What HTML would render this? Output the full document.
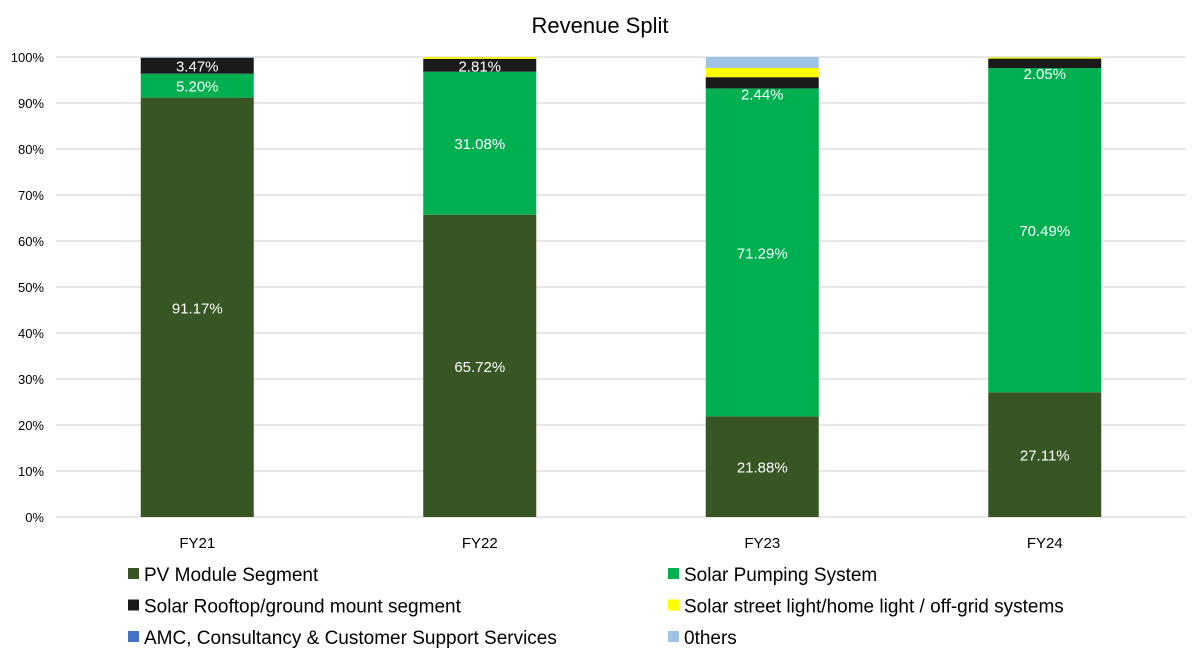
<!DOCTYPE html>
<html><head><meta charset="utf-8"><style>
body{margin:0;background:#fff;font-family:"Liberation Sans",sans-serif}
</style></head><body>
<svg id="c" width="1200" height="661" xmlns="http://www.w3.org/2000/svg"></svg>
<script>
const categories=["FY21","FY22","FY23","FY24"];
const pvModule=[91.17,65.72,21.88,27.11];
const solarPumping=[5.20,31.08,71.29,70.49];
const rooftop=[3.47,2.81,2.44,2.05];
const streetLight=[0.0,0.39,2.0,0.30];
const amc=[0,0,0,0];
const others=[0.16,0,2.39,0.05];
const yTicks=[0,10,20,30,40,50,60,70,80,90,100];
const seriesNames=["PV Module Segment","Solar Pumping System","Solar Rooftop/ground mount segment","Solar street light/home light / off-grid systems","AMC, Consultancy & Customer Support Services","0thers"];
const seriesData=[pvModule,solarPumping,rooftop,streetLight,amc,others];
const colors=["#375623","#00b050","#1a1a1a","#ffff00","#4472c4","#9dc3e6"];
const labelShown=[true,true,true,false,false,false];

const NS="http://www.w3.org/2000/svg";
const svg=document.getElementById('c');
const x0=56,x1=1186,y0=517,y1=57;
const y=v=>y0-(v/100)*(y0-y1);
const bw=(x1-x0)/categories.length;
const xc=i=>x0+bw*(i+0.5);
const barW=113;
function mk(t,a,p){const e=document.createElementNS(NS,t);for(const k in a)e.setAttribute(k,a[k]);(p||svg).appendChild(e);return e;}

const title=mk('text',{x:600,y:33,'text-anchor':'middle','font-size':22,fill:'#000'});
title.textContent="Revenue Split";



yTicks.forEach(t=>{
  const l=mk('line',{x1:x0,x2:x1,y1:y(t),y2:y(t),stroke:'#d9d9d9','stroke-width':1.3});
  
  
  const tx=mk('text',{x:44,y:y(t)+5,'text-anchor':'end','font-size':13,fill:'#000'});
  tx.textContent=t+"%";
  
  
});

categories.forEach((c,i)=>{
  let acc=0;
  seriesData.forEach((s,k)=>{
    const v=s[i];
    if(v>0){
      const r=mk('rect',{x:xc(i)-barW/2,y:y(acc+v),width:barW,height:y(acc)-y(acc+v),fill:colors[k]});
      
      
      if(labelShown[k]){
        let cy=(y(acc)+y(acc+v))/2;
        if(k===2 && v<2.6) cy=y(acc)+5;
        const tx=mk('text',{x:xc(i),y:cy+6,'text-anchor':'middle','font-size':15,fill:'#fff'});
        tx.textContent=v.toFixed(2)+"%";
        
        
      }
    }
    acc+=v;
  });
  const cl=mk('text',{x:xc(i),y:548,'text-anchor':'middle','font-size':15,fill:'#000'});
  cl.textContent=c;
  
  
});

seriesNames.forEach((n,k)=>{
  const lx=k%2===0?128:668, ly=574+Math.floor(k/2)*31.5;
  const sw=mk('rect',{x:lx,y:ly-6,width:11,height:11,fill:colors[k]});
  
  
  const t=mk('text',{x:lx+16,y:ly+7,'font-size':19,fill:'#000'});
  t.textContent=n;
  
  
});
</script>
</body></html>
